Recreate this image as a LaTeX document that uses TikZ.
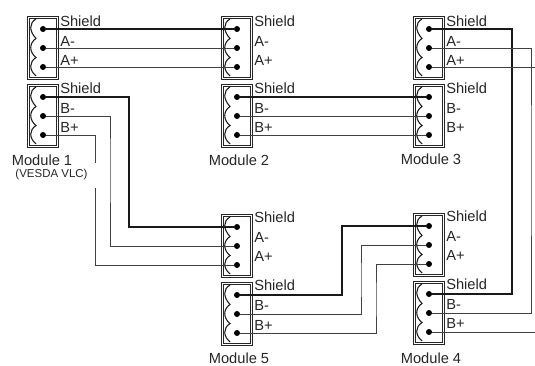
\documentclass[tikz,border=0pt]{standalone}
\usepackage{fontspec}
\setmainfont{Liberation Sans}
\usetikzlibrary{positioning}
\tikzset{
    pin/.style={circle,fill=black,inner sep=0pt,minimum size=4.5pt},
    tag/.style={anchor=base west,inner sep=0pt,font=\fontsize{11}{11}\selectfont,text=black!85},
    modlabel/.style={inner sep=0pt,font=\fontsize{11}{11}\selectfont,text=black!85},
    sublabel/.style={inner sep=0pt,font=\fontsize{8.6}{9}\selectfont,text=black!85},
    thinwire/.style={line width=0.45pt,black!75},
    thickwire/.style={line width=1.4pt,black!90},
    housing/.style={line width=0.6pt,black!85},
    wavy/.style={line width=0.8pt,black!90}
}
\begin{document}
\begin{tikzpicture}[x=0.75pt,y=0.75pt,yscale=-1,xscale=1]
    \useasboundingbox (0,0) rectangle (535,366);
    % terminal blocks: name / left / top / tag shift / tags
    \foreach \name/\bx/\by/\tdy/\tagone/\tagtwo/\tagthree in {
        ma/27/16/1.5/Shield/A-/A+, mb/27/84/1/Shield/B-/B+,
        na/221/16/1.5/Shield/A-/A+, nb/221/84/1/Shield/B-/B+,
        pa/413/16/1.5/Shield/A-/A+, pb/413/84/1/Shield/B-/B+,
        qa/221/214/0/Shield/A-/A+, qb/221/282/0/Shield/B-/B+,
        ra/413/213/0/Shield/A-/A+, rb/413/281/0/Shield/B-/B+}{
        \begin{scope}[shift={(\bx,\by)}]
            \draw [housing] (0,0) rectangle (31,63);
            \draw [housing] (2,2) rectangle (29,61);
            \draw [wavy] (9,3) .. controls (2,7) and (2,15) .. (9,22.5) .. controls (2,27) and (2,36) .. (9,41.5) .. controls (2,46) and (2,54) .. (9,60);
            \node [pin] (\name s) at (16,13) {};
            \node [pin] (\name m) at (16,32) {};
            \node [pin] (\name p) at (16,51) {};
            \node [tag] (\name ts) at (33,9+\tdy) {\tagone};
            \node [tag] (\name tm) at (33,29+\tdy) {\tagtwo};
            \node [tag] (\name tp) at (33,48+\tdy) {\tagthree};
        \end{scope}
    }
    % bends and free ends
    \coordinate (bendone) at (129,160);
    \coordinate (bendtwo) at (110,160);
    \coordinate (gaptop) at (95,163);
    \coordinate (gapbot) at (95,188);
    \coordinate (bendthree) at (342,260);
    \coordinate (bendfour) at (361,280);
    \coordinate (bendfive) at (376,300);
    \coordinate (bendsix) at (512,160);
    \coordinate (bendseven) at (531,160);
    \coordinate (endone) at (535,67);
    \coordinate (endtwo) at (535,332);
    % wires
    \draw [thickwire] (mas) -- (nas);
    \draw [thinwire] (mam) -- (nam);
    \draw [thinwire] (map) -- (nap);
    \draw [thickwire] (nbs) -- (pbs);
    \draw [thinwire] (nbm) -- (pbm);
    \draw [thinwire] (nbp) -- (pbp);
    \draw [thickwire] (mbs) -| (bendone) |- (qas);
    \draw [thinwire] (mbm) -| (bendtwo) |- (qam);
    \draw [thinwire] (mbp) -| (gaptop);
    \draw [thinwire] (gapbot) |- (qap);
    \draw [thickwire] (qbs) -| (bendthree) |- (ras);
    \draw [thinwire] (qbm) -| (bendfour) |- (ram);
    \draw [thinwire] (qbp) -| (bendfive) |- (rap);
    \draw [thickwire] (pas) -| (bendsix) |- (rbs);
    \draw [thinwire] (pam) -| (bendseven) |- (rbm);
    \draw [thinwire] (pap) -- (endone);
    \draw [thinwire] (rbp) -- (endtwo);
    % labels
    \node [modlabel] (modone) at (42,160) {Module 1};
    \node [sublabel] (modsub) at (51.5,174.5) {(VESDA VLC)};
    \node [modlabel] (modtwo) at (239,160) {Module 2};
    \node [modlabel] (modthree) at (431,159) {Module 3};
    \node [modlabel] (modfive) at (239,358) {Module 5};
    \node [modlabel] (modfour) at (431,358) {Module 4};
\end{tikzpicture}
\end{document}
